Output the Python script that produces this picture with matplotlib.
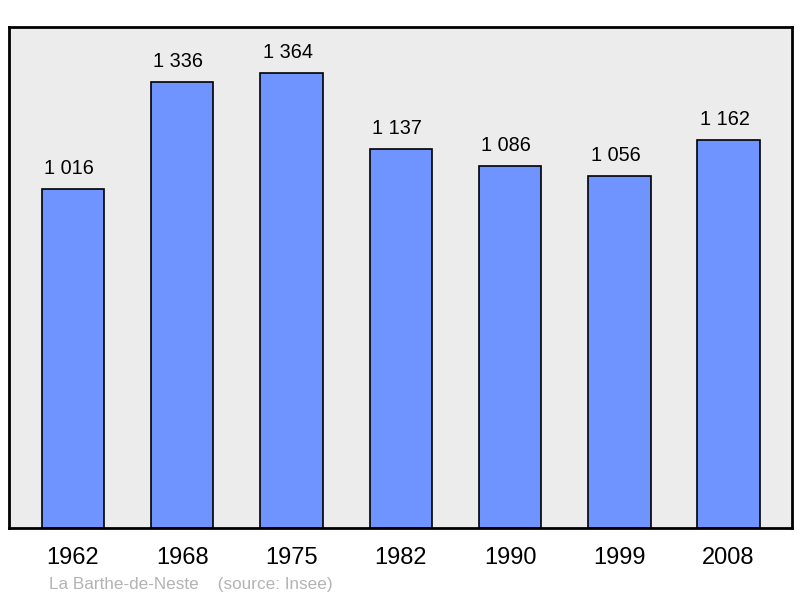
import matplotlib.pyplot as plt

plt.rcParams['font.family'] = ['Liberation Sans', 'DejaVu Sans']

years = ['1962', '1968', '1975', '1982', '1990', '1999', '2008']
population = [1016, 1336, 1364, 1137, 1086, 1056, 1162]
labels = ['1 016', '1 336', '1 364', '1 137', '1 086', '1 056', '1 162']

fig = plt.figure(figsize=(8, 5.98), dpi=100)
ax = fig.add_axes([9 / 800, 1 - 528 / 598, 783 / 800, 501 / 598])
ax.set_facecolor('#ececec')

x = range(len(years))
ax.bar(x, population, width=0.572, color='#7094ff', edgecolor='black', linewidth=1.2, zorder=2)
# value labels sit a little left of the bar centre, as in the original
for xi, v, lab in zip(x, population, labels):
    ax.text(xi - 0.035, v + 33, lab, ha='center', va='bottom', fontsize=14.3)

ax.set_xlim(-0.585, 6.58)
ax.set_ylim(0, 1502)
ax.set_yticks([])
ax.set_xticks(list(x))
ax.set_xticklabels(years, fontsize=17)
ax.tick_params(axis='x', length=0, pad=14)
for s in ax.spines.values():
    s.set_linewidth(2)

fig.text(49 / 800, 1 - 584 / 598, 'La Barthe-de-Neste    (source: Insee)', fontsize=12.3,
         color='#b3b3b3', ha='left', va='center')

fig.savefig('out.png')
